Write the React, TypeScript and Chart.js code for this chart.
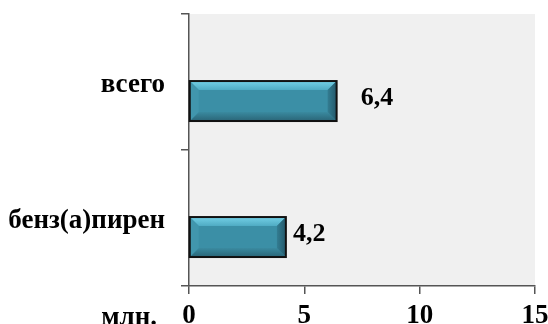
import React, { useEffect, useRef } from "react";
import { Chart, registerables } from "chart.js";

Chart.register(...registerables);

const categories = ["всего", "бенз(а)пирен"];
const values = [6.4, 4.2];
const valueLabels = ["6,4", "4,2"];
const spacer = [null, null];
const unitLabel = "млн.";
const xMin = 0;
const xMax = 15;
const xStep = 5;

const FONT = "'Liberation Serif', 'Times New Roman', serif";
const labelOffsets = [24, 7];

const bgPlugin = {
  id: "plotBg",
  beforeDraw(chart: any) {
    const { ctx, chartArea } = chart;
    ctx.save();
    ctx.fillStyle = "#f0f0f0";
    ctx.fillRect(chartArea.left, chartArea.top, chartArea.right - chartArea.left, chartArea.bottom - chartArea.top);
    ctx.restore();
  },
};

const bevelPlugin = {
  id: "bevel",
  afterDatasetsDraw(chart: any) {
    const { ctx } = chart;
    const meta = chart.getDatasetMeta(1);
    ctx.save();
    meta.data.forEach((el: any, i: number) => {
      const p = el.getProps(["x", "y", "base", "height"], true);
      const l = Math.min(p.base, p.x);
      const r = Math.max(p.base, p.x);
      const t = p.y - p.height / 2;
      const b = p.y + p.height / 2;
      const d = 9;
      ctx.fillStyle = "#3b8fa6";
      ctx.fillRect(l, t, r - l, b - t);
      const poly = (pts: number[][], color: any) => {
        ctx.beginPath();
        ctx.moveTo(pts[0][0], pts[0][1]);
        for (let k = 1; k < pts.length; k++) ctx.lineTo(pts[k][0], pts[k][1]);
        ctx.closePath();
        ctx.fillStyle = color;
        ctx.fill();
      };
      const gTop = ctx.createLinearGradient(0, t, 0, t + d);
      gTop.addColorStop(0, "#74d0e6");
      gTop.addColorStop(1, "#4fabc3");
      poly([[l, t], [r, t], [r - d, t + d], [l + d, t + d]], gTop);
      const gBot = ctx.createLinearGradient(0, b - d, 0, b);
      gBot.addColorStop(0, "#3a8aa0");
      gBot.addColorStop(1, "#2a6577");
      poly([[l, b], [r, b], [r - d, b - d], [l + d, b - d]], gBot);
      poly([[l, t], [l + d, t + d], [l + d, b - d], [l, b]], "#4196ad");
      const gR = ctx.createLinearGradient(r - d, 0, r, 0);
      gR.addColorStop(0, "#337d92");
      gR.addColorStop(1, "#24586a");
      poly([[r, t], [r - d, t + d], [r - d, b - d], [r, b]], gR);
      ctx.strokeStyle = "#111111";
      ctx.lineWidth = 2;
      ctx.strokeRect(l, t, r - l, b - t);

      ctx.fillStyle = "#000000";
      ctx.font = `bold 26px ${FONT}`;
      ctx.textAlign = "left";
      ctx.textBaseline = "middle";
      ctx.fillText(valueLabels[i], r + labelOffsets[i], p.y - 3);
    });
    const xs = chart.scales.x;
    ctx.fillStyle = "#000000";
    ctx.font = `bold 27px ${FONT}`;
    ctx.textAlign = "right";
    ctx.textBaseline = "middle";
    ctx.fillText(unitLabel, xs.left - 32, chart.chartArea.bottom + 32);
    ctx.restore();
  },
};

export default function App() {
  const ref = useRef<HTMLCanvasElement | null>(null);
  useEffect(() => {
    if (!ref.current) return;
    const chart = new Chart(ref.current, {
      type: "bar",
      data: {
        labels: categories,
        datasets: [
          { data: spacer as any, backgroundColor: "transparent" },
          { data: values, backgroundColor: "#3b8fa6", borderWidth: 0 },
        ],
      },
      options: {
        indexAxis: "y",
        animation: false,
        responsive: true,
        maintainAspectRatio: false,
        categoryPercentage: 0.56,
        barPercentage: 1.05,
        layout: { padding: { top: 14, right: 13, left: 0, bottom: 0 } },
        plugins: { legend: { display: false }, tooltip: { enabled: false } },
        scales: {
          x: {
            min: xMin,
            max: xMax,
            ticks: {
              stepSize: xStep,
              color: "#000",
              font: { family: FONT, size: 27, weight: "bold" },
              padding: 6,
              maxRotation: 0,
            },
            grid: { drawOnChartArea: false, tickLength: 8, color: "#555", lineWidth: 1.5 },
            border: { color: "#555", width: 1.5 },
            afterFit(scale: any) {
              scale.height = 38;
              scale.paddingLeft = 0;
              scale.paddingRight = 0;
            },
          },
          y: {
            offset: true,
            ticks: {
              color: "#000",
              font: { family: FONT, size: 27, weight: "bold" },
              padding: 16,
              labelOffset: 3,
            },
            grid: { drawOnChartArea: false, offset: true, tickLength: 8, color: "#555", lineWidth: 1.5 },
            border: { color: "#555", width: 1.5 },
            afterFit(scale: any) {
              scale.width = 189;
              scale.paddingTop = 0;
              scale.paddingBottom = 0;
            },
          },
        },
      },
      plugins: [bgPlugin, bevelPlugin],
    });
    return () => chart.destroy();
  }, []);
  return (
    <div style={{ position: "absolute", left: 0, top: 0, width: 548, height: 324 }}>
      <canvas ref={ref} />
    </div>
  );
}
